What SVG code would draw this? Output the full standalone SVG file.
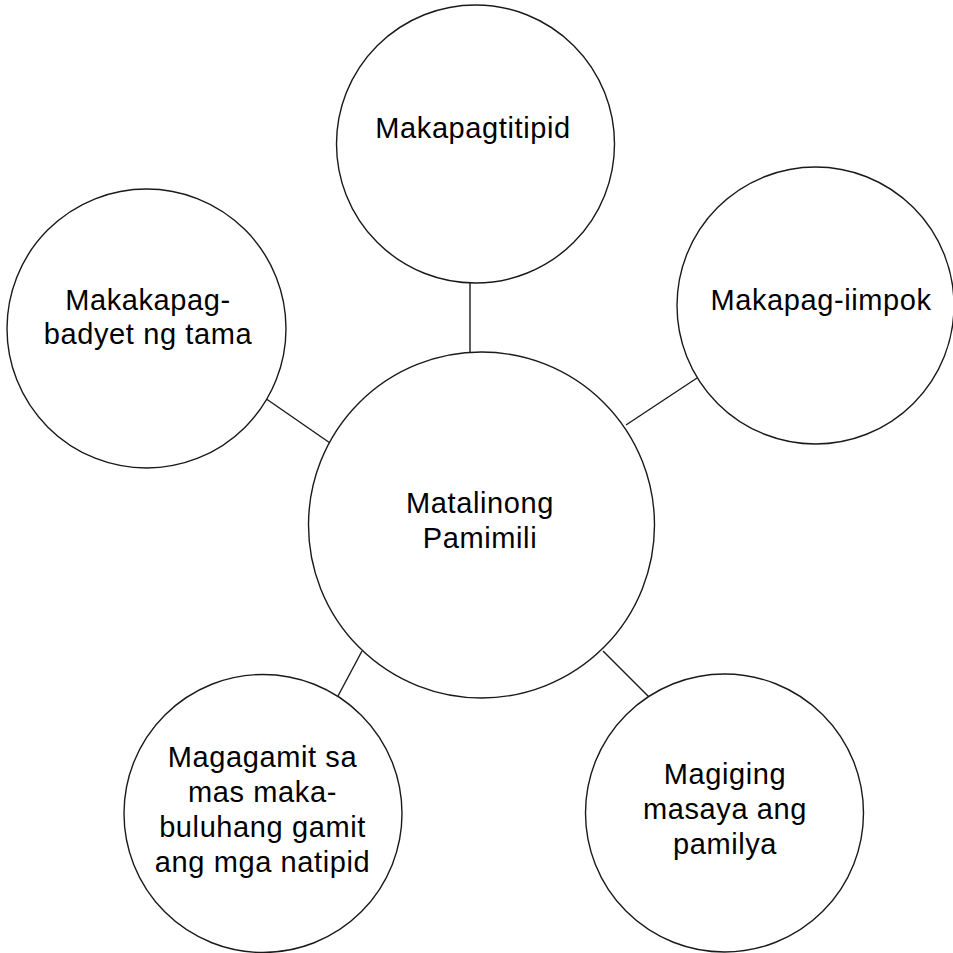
<svg xmlns="http://www.w3.org/2000/svg" width="953" height="953" viewBox="0 0 953 953">
<style>
.node circle{fill:#fff;stroke:#1a1a1a;stroke-width:1.4}
.node text{font-family:"Liberation Sans",Arial,sans-serif;font-size:29px;letter-spacing:0.6px;fill:#000;text-anchor:middle}
.conn line{stroke:#1a1a1a;stroke-width:1.4}
</style>
<rect width="953" height="953" fill="#fff"/>
<g id="connectors" class="conn">
<line x1="470" y1="283" x2="470" y2="352"/>
<line x1="265" y1="398" x2="330" y2="443"/>
<line x1="697" y1="378" x2="626" y2="425"/>
<line x1="362" y1="651" x2="338" y2="696"/>
<line x1="603" y1="651" x2="649" y2="697"/>
</g>
<g id="center" class="node">
<circle cx="481.5" cy="525" r="173"/>
<text x="480" y="513">Matalinong</text>
<text x="480" y="548">Pamimili</text>
</g>
<g id="top" class="node">
<circle cx="475.5" cy="144" r="139"/>
<text x="473" y="138">Makapagtitipid</text>
</g>
<g id="left" class="node">
<circle cx="146.5" cy="328.5" r="139.5"/>
<text x="148" y="310">Makakapag-</text>
<text x="148" y="344">badyet ng tama</text>
</g>
<g id="right" class="node">
<circle cx="815.5" cy="305.5" r="138.5"/>
<text x="821" y="310">Makapag-iimpok</text>
</g>
<g id="bottom-left" class="node">
<circle cx="263" cy="813.5" r="139"/>
<text x="262.5" y="767">Magagamit sa</text>
<text x="262.5" y="802">mas maka-</text>
<text x="262.5" y="837">buluhang gamit</text>
<text x="262.5" y="872">ang mga natipid</text>
</g>
<g id="bottom-right" class="node">
<circle cx="724.5" cy="813" r="139"/>
<text x="725" y="784">Magiging</text>
<text x="725" y="819">masaya ang</text>
<text x="725" y="854">pamilya</text>
</g>
</svg>
